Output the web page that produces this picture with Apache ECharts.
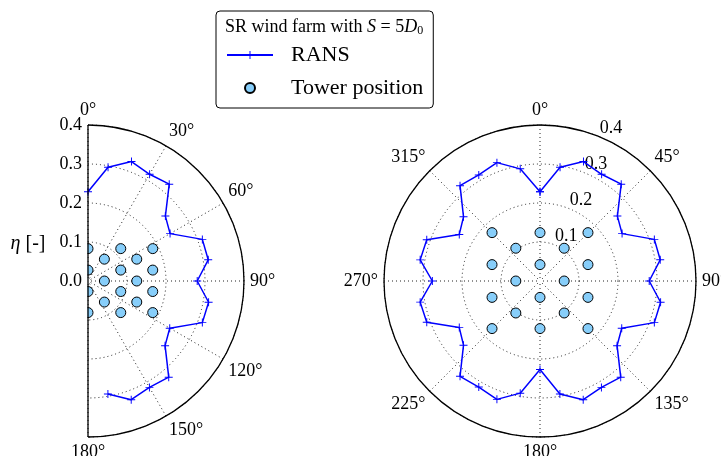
<!DOCTYPE html>
<html><head><meta charset="utf-8">
<script src="https://cdn.jsdelivr.net/npm/echarts@6/dist/echarts.min.js"></script>
<style>html,body{margin:0;padding:0;background:#fff}#c{width:721px;height:456px}</style>
</head><body><div id="c"></div>
<script>
// wind direction [deg] and wake efficiency eta from RANS
const directions = [0,10,20,30,40,50,60,70,80,90,100,110,120,130,140,150,160,170,
  180,190,200,210,220,230,240,250,260,270,280,290,300,310,320,330,340,350];
const etaRANS = [0.229,0.296,0.326,0.316,0.324,0.259,0.243,0.312,0.313,0.280,0.314,0.312,
  0.242,0.258,0.322,0.315,0.324,0.294,0.227,0.292,0.323,0.314,0.319,0.256,0.239,0.309,
  0.312,0.276,0.312,0.309,0.239,0.256,0.319,0.314,0.323,0.292];
// left (half) panel shows directions 0..170
const halfCount = 18;
// tower positions (east / north), full panel
const towerFullX = [-0.123,-0.123,-0.123,-0.123,-0.062,-0.062,-0.062,0,0,0,0,0.062,0.062,0.062,0.123,0.123,0.123,0.123];
const towerFullY = [0.124,0.042,-0.042,-0.122,0.084,0,-0.082,0.124,0.042,-0.042,-0.122,0.084,0,-0.082,0.124,0.042,-0.042,-0.122];
// tower positions (east / north), half panel
const towerHalfX = [0,0,0,0,0.042,0.042,0.042,0.084,0.084,0.084,0.084,0.125,0.125,0.125,0.166,0.166,0.166,0.166];
const towerHalfY = [0.083,0.028,-0.027,-0.081,0.056,0,-0.054,0.083,0.028,-0.027,-0.081,0.056,0,-0.054,0.083,0.028,-0.027,-0.081];
const radialMax = 0.4, radialStep = 0.1;
const angleStepHalf = 30, angleStepFull = 45;

const FONT = 'Liberation Serif';
function toPolar(xs, ys) {
  return xs.map((x, i) => {
    const y = ys[i];
    const r = Math.sqrt(x * x + y * y);
    let a = Math.atan2(x, y) * 180 / Math.PI;
    if (a < 0) a += 360;
    return [r, a];
  });
}
const ransHalf = directions.slice(0, halfCount).map((d, i) => [etaRANS[i], d]);
const ransFull = directions.map((d, i) => [etaRANS[i], d]);
ransFull.push([etaRANS[0], 360]);

const plus = 'path://M4.4,0 H5.6 V4.4 H10 V5.6 H5.6 V10 H4.4 V5.6 H0 V4.4 H4.4 Z';
const dotted = {color: '#222', type: [1, 3], width: 1};
const labelStyle = {fontFamily: FONT, fontSize: 18, color: '#000'};
const CX_L = 88, CX_R = 540, CY = 281, R = 156;
const hidden = {show: false};
const towerSize = 10;

const chart = echarts.init(document.getElementById('c'), null, {renderer: 'canvas'});
chart.setOption({
  animation: false,
  backgroundColor: '#fff',
  polar: [
    {center: [CX_L, CY], radius: R},
    {center: [CX_R, CY], radius: R},
    {center: [CX_R, CY], radius: R}
  ],
  angleAxis: [
    {polarIndex: 0, type: 'value', startAngle: 90, endAngle: -90, clockwise: true,
     min: 0, max: 180, interval: angleStepHalf,
     axisLine: {lineStyle: {color: '#000', width: 1.3}}, axisTick: hidden,
     axisLabel: Object.assign({formatter: '{value}°', margin: 6}, labelStyle),
     splitLine: {lineStyle: dotted}},
    {polarIndex: 1, type: 'value', startAngle: 90, clockwise: true, min: 0, max: 360, interval: angleStepFull,
     axisLine: {lineStyle: {color: '#000', width: 1.3}}, axisTick: hidden,
     axisLabel: Object.assign({formatter: v => v === 360 ? '' : v + '°', margin: 6}, labelStyle),
     splitLine: {lineStyle: dotted}},
    {polarIndex: 2, type: 'value', startAngle: 67.5, clockwise: true, min: 0, max: 360,
     axisLine: hidden, axisTick: hidden, axisLabel: hidden, splitLine: hidden}
  ],
  radiusAxis: [
    {polarIndex: 0, type: 'value', min: 0, max: radialMax, interval: radialStep,
     axisLine: hidden, axisTick: hidden,
     axisLabel: Object.assign({formatter: v => v.toFixed(1), margin: 6}, labelStyle),
     splitLine: {lineStyle: dotted}},
    {polarIndex: 1, type: 'value', min: 0, max: radialMax, interval: radialStep,
     axisLine: hidden, axisTick: hidden, axisLabel: hidden,
     splitLine: {lineStyle: dotted}},
    {polarIndex: 2, type: 'value', min: 0, max: radialMax, interval: radialStep,
     axisLine: hidden, axisTick: hidden, splitLine: hidden,
     axisLabel: Object.assign({showMinLabel: false, formatter: v => v.toFixed(1), margin: 0,
       align: 'left', verticalAlign: 'bottom'}, labelStyle)}
  ],
  legend: {
    orient: 'vertical', left: 216, top: 11,
    padding: [33, 10, 9, 10],
    borderColor: '#000', borderWidth: 1, borderRadius: 4,
    itemWidth: 46, itemHeight: 10, itemGap: 11,
    textStyle: {fontFamily: FONT, fontSize: 22, color: '#000', lineHeight: 22, padding: [0, 0, 0, 13]},
    data: [{name: 'RANS'}, {name: 'Tower position', icon: 'circle'}]
  },
  graphic: [
    {type: 'text', left: 225, top: 18, z: 100,
     style: {text: '{a|SR wind farm with }{i|S}{a| = 5}{i|D}{s|0}',
       rich: {a: {fontFamily: FONT, fontSize: 18, fill: '#000'},
              i: {fontFamily: FONT, fontSize: 18, fontStyle: 'italic', fill: '#000'},
              s: {fontFamily: FONT, fontSize: 12, fill: '#000', padding: [8, 0, 0, 0]}}}},
    {type: 'text', x: 28, y: 244,
     style: {text: '{i|η} [-]', align: 'center', verticalAlign: 'middle',
       rich: {i: {fontFamily: FONT, fontSize: 20, fontStyle: 'italic', fill: '#000'}},
       fontFamily: FONT, fontSize: 20, fill: '#000'}},
    // clip the half panel on its straight edge (markers do not spill past it)
    {type: 'rect', z: 90, silent: true,
     shape: {x: CX_L - towerSize / 2 - 1, y: CY - R * 0.3, width: towerSize / 2 + 0.4, height: R * 0.6},
     style: {fill: '#fff'}},
    // straight edge of the half panel (0°–180° diameter)
    {type: 'line', z: 95, silent: true,
     shape: {x1: CX_L, y1: CY - R, x2: CX_L, y2: CY + R},
     style: {stroke: '#000', lineWidth: 1.3}}
  ],
  series: [
    {name: 'RANS', type: 'line', coordinateSystem: 'polar', polarIndex: 0, data: ransHalf,
     symbol: plus, symbolSize: 8, lineStyle: {color: '#0000ff', width: 1.5},
     itemStyle: {color: '#0000ff'}, z: 3},
    {name: 'RANS', type: 'line', coordinateSystem: 'polar', polarIndex: 1, data: ransFull,
     symbol: plus, symbolSize: 8, lineStyle: {color: '#0000ff', width: 1.5},
     itemStyle: {color: '#0000ff'}, z: 3},
    {name: 'Tower position', type: 'scatter', coordinateSystem: 'polar', polarIndex: 0,
     data: toPolar(towerHalfX, towerHalfY), symbol: 'circle', symbolSize: towerSize,
     itemStyle: {color: '#87CEFA', borderColor: '#000', borderWidth: 1, opacity: 1}, z: 4},
    {name: 'Tower position', type: 'scatter', coordinateSystem: 'polar', polarIndex: 1,
     data: toPolar(towerFullX, towerFullY), symbol: 'circle', symbolSize: towerSize,
     itemStyle: {color: '#87CEFA', borderColor: '#000', borderWidth: 1, opacity: 1}, z: 4}
  ]
});
</script></body></html>
